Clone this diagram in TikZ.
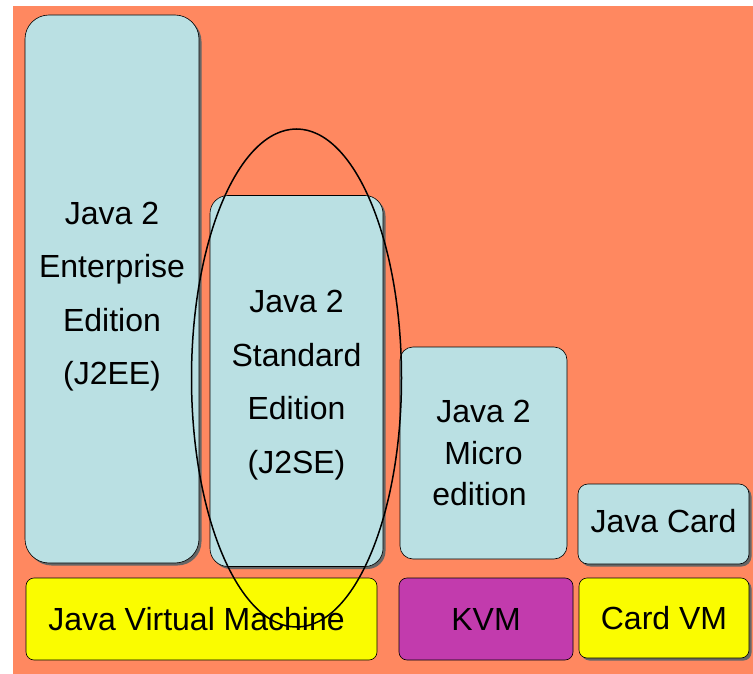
\documentclass[tikz,border=0pt]{standalone}
\usepackage{fontspec}
\setmainfont{Liberation Sans}
\usetikzlibrary{shapes.geometric,shadows}
\definecolor{slidesalmon}{RGB}{255,136,96}
\definecolor{editionblue}{RGB}{186,224,227}
\definecolor{vmyellow}{RGB}{250,252,0}
\definecolor{kvmmagenta}{RGB}{194,59,173}

\begin{document}
\begin{tikzpicture}[
        x=1pt, y=-1pt,
        font=\fontsize{32}{53.5}\selectfont,
        box/.style={rectangle, draw, line width=0.6pt, fill=#1, align=center, inner sep=0pt},
        shadowed/.style={drop shadow={shadow xshift=2.5pt, shadow yshift=-2.5pt, fill=black!60, opacity=1}}
    ]
        % page and slide background
        \fill[white] (0,0) rectangle (753,674);
        \fill[slidesalmon] (13,6) rectangle (753,674);

        % editions
        \node[box=editionblue, shadowed, rounded corners=24pt, minimum width=174pt, minimum height=548pt] (j2ee) at (112,289) {\rule{0pt}{37.5pt}Java 2\\Enterprise\\Edition\\(J2EE)};
        \node[box=editionblue, shadowed, rounded corners=18pt, minimum width=173pt, minimum height=371pt] (j2se) at (296.5,381) {\rule{0pt}{31pt}Java 2\\Standard\\Edition\\(J2SE)};
        \node[box=editionblue, rounded corners=13pt, minimum width=167pt, minimum height=212pt, font=\fontsize{32}{41.5}\selectfont] (j2me) at (483.5,453) {Java 2\\Micro\\edition\hspace*{8pt}};
        \node[box=editionblue, shadowed, rounded corners=10pt, minimum width=171pt, minimum height=80pt] (card) at (663.5,524) {\rule[-6pt]{0pt}{0pt}Java Card};

        % virtual machines
        \node[box=vmyellow, rounded corners=8pt, minimum width=351pt, minimum height=82pt] (jvm) at (201.5,619) {Java Virtual Machine\hspace*{10pt}};
        \node[box=kvmmagenta, rounded corners=8pt, minimum width=174pt, minimum height=82pt] (kvm) at (486,619) {KVM};
        \node[box=vmyellow, shadowed, rounded corners=8pt, minimum width=170pt, minimum height=80pt] (cardvm) at (664,618) {Card VM};

        % ring round the standard edition
        \node[ellipse, draw, line width=1.5pt, inner sep=0pt, minimum width=210pt, minimum height=498pt] (ring) at (296.5,378) {};
    \end{tikzpicture}
\end{document}
